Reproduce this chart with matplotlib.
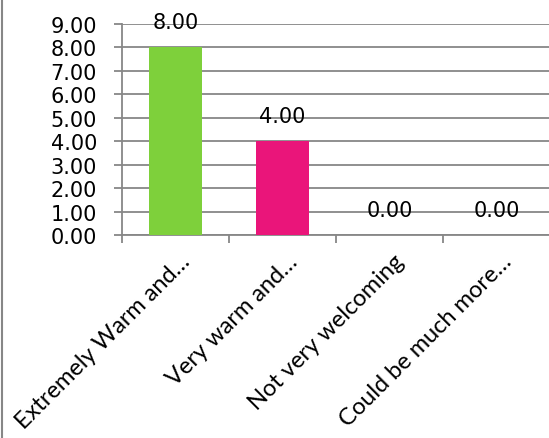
import matplotlib.pyplot as plt
import matplotlib.transforms as mtransforms
from matplotlib.lines import Line2D

categories = ['Extremely Warm and\u2026', 'Very warm and\u2026', 'Not very welcoming', 'Could be much more\u2026']
values = [8.00, 4.00, 0.00, 0.00]
colors = ['#7ED03B', '#EA157A', '#4F81BD', '#F79646']
yticks = [0, 1, 2, 3, 4, 5, 6, 7, 8, 9]

grey = '#878787'

fig = plt.figure(figsize=(5.49, 4.39), dpi=100)
ax = fig.add_axes([122 / 549, 1 - 236 / 439, 428 / 549, 211 / 439])

x = list(range(len(categories)))
ax.bar(x, values, width=0.5, color=colors, zorder=3)

for xi, v in zip(x, values):
    ax.annotate(f'{v:.2f}', (xi, v), xytext=(0, 11), textcoords='offset points',
                ha='center', va='bottom', fontsize=15, family='DejaVu Sans', zorder=4)

ax.set_xlim(-0.5, 3.5)
ax.set_ylim(0, 9)
ax.set_yticks(yticks)
ax.set_yticklabels([f'{t:.2f}' for t in yticks], fontsize=15, family='DejaVu Sans')
ax.yaxis.grid(True, color=grey, linewidth=1.3, zorder=0)
ax.set_axisbelow(True)

ax.set_xticks(x)
ax.set_xticklabels(categories, rotation=45, ha='right', rotation_mode='anchor',
                   fontsize=17, family='Lato')
ax.set_xticks([-0.5, 0.5, 1.5, 2.5], minor=True)
ax.tick_params(axis='x', which='major', length=0, pad=11)
ax.tick_params(axis='x', which='minor', length=6, color=grey, width=1.3)
ax.tick_params(axis='y', length=6, color=grey, width=1.3, pad=12)

# nudge the rotated labels to the right a little
shift = mtransforms.ScaledTranslation(4 / 100, 0, fig.dpi_scale_trans)
for lbl in ax.get_xticklabels():
    lbl.set_transform(lbl.get_transform() + shift)

for side in ['top', 'right']:
    ax.spines[side].set_visible(False)
for side in ['left', 'bottom']:
    ax.spines[side].set_color(grey)
    ax.spines[side].set_linewidth(1.3)

fig.add_artist(Line2D([2 / 549, 2 / 549], [0, 1], color=grey, linewidth=1.5))

plt.savefig('out.png', dpi=100)
